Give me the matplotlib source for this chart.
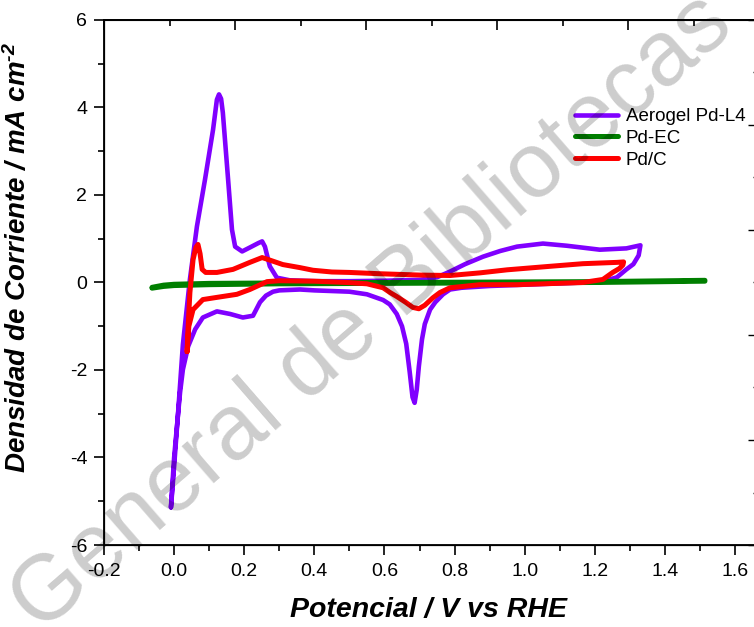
import matplotlib
matplotlib.use("Agg")
import matplotlib.pyplot as plt
from matplotlib.ticker import MultipleLocator, NullFormatter

plt.rcParams['font.family'] = ['Liberation Sans', 'DejaVu Sans']
plt.rcParams['mathtext.fontset'] = 'custom'
plt.rcParams['mathtext.rm'] = 'Liberation Sans:italic:bold'
plt.rcParams['mathtext.bf'] = 'Liberation Sans:italic:bold'
plt.rcParams['mathtext.it'] = 'Liberation Sans:italic:bold'

# ---------------- data ----------------
# Aerogel Pd-L4 : anodic scan followed by cathodic scan
aero_x = [-0.009, 0.000, 0.012, 0.025, 0.045, 0.065, 0.088, 0.111, 0.122, 0.128, 0.134, 0.139,
          0.154, 0.165, 0.174, 0.194, 0.216, 0.240, 0.251, 0.259, 0.273, 0.293, 0.33, 0.40,
          0.50, 0.60, 0.70, 0.75, 0.787, 0.83, 0.881, 0.93, 0.978, 1.052, 1.12, 1.214, 1.29,
          1.330, 1.325, 1.31, 1.29, 1.263, 1.223, 1.166, 1.00, 0.90, 0.82, 0.787, 0.767, 0.745,
          0.730, 0.715, 0.707, 0.698, 0.692, 0.686, 0.680, 0.672, 0.662, 0.650, 0.635, 0.615,
          0.596, 0.55, 0.50, 0.40, 0.359, 0.30, 0.282, 0.262, 0.245, 0.225, 0.196, 0.16, 0.122,
          0.082, 0.060, 0.040, 0.025, 0.017, 0.008, 0.000, -0.009]
aero_y = [-5.14, -4.20, -2.90, -1.42, 0.07, 1.28, 2.35, 3.49, 4.18, 4.30, 4.20, 3.88,
          2.35, 1.21, 0.82, 0.71, 0.80, 0.90, 0.94, 0.82, 0.37, 0.11, 0.05, 0.03,
          0.03, 0.04, 0.06, 0.12, 0.25, 0.42, 0.59, 0.72, 0.82, 0.89, 0.84, 0.75, 0.78,
          0.85, 0.62, 0.42, 0.30, 0.12, 0.02, 0.00, -0.05, -0.08, -0.12, -0.16, -0.27, -0.45,
          -0.62, -0.95, -1.30, -1.92, -2.45, -2.75, -2.62, -2.05, -1.40, -1.00, -0.72, -0.50,
          -0.40, -0.27, -0.21, -0.18, -0.16, -0.18, -0.21, -0.30, -0.45, -0.76, -0.80, -0.72, -0.66,
          -0.80, -1.07, -1.46, -1.99, -2.51, -3.29, -4.00, -5.14]

# Pd-EC
pdec_x = [-0.063, -0.03, 0.00, 0.10, 0.30, 0.60, 0.90, 1.20, 1.514,
          1.514, 1.20, 0.90, 0.60, 0.30, 0.10, 0.00, -0.03, -0.063]
pdec_y = [-0.11, -0.06, -0.04, -0.02, -0.01, 0.00, 0.01, 0.02, 0.05,
          0.03, 0.00, -0.01, -0.02, -0.03, -0.05, -0.07, -0.09, -0.13]

# Pd/C
pdc_x = [0.037, 0.040, 0.045, 0.054, 0.062, 0.068, 0.074, 0.080, 0.090, 0.122, 0.168, 0.216,
         0.251, 0.270, 0.31, 0.359, 0.396, 0.45, 0.50, 0.587, 0.70, 0.787, 0.872, 0.95, 1.072,
         1.166, 1.263, 1.282, 1.280, 1.270, 1.251, 1.223, 1.166, 0.978, 0.872, 0.824, 0.787,
         0.758, 0.738, 0.715, 0.698, 0.681, 0.660, 0.635, 0.616, 0.596, 0.55, 0.493, 0.40,
         0.30, 0.265, 0.216, 0.179, 0.122, 0.082, 0.054, 0.042, 0.037]
pdc_y = [-1.58, -1.00, -0.23, 0.52, 0.80, 0.87, 0.66, 0.30, 0.23, 0.23, 0.30, 0.46,
         0.57, 0.52, 0.41, 0.34, 0.28, 0.24, 0.23, 0.20, 0.17, 0.16, 0.22, 0.29, 0.37,
         0.43, 0.46, 0.47, 0.40, 0.32, 0.23, 0.07, 0.00, -0.05, -0.05, -0.09, -0.12,
         -0.23, -0.35, -0.52, -0.60, -0.57, -0.45, -0.32, -0.23, -0.12, -0.03, 0.00, 0.03,
         0.04, 0.02, -0.16, -0.27, -0.34, -0.39, -0.62, -1.00, -1.58]

series_labels = ["Aerogel Pd-L4", "Pd-EC", "Pd/C"]
series_colors = ["#8000FF", "#007F00", "#FF0000"]

x_label = "Potencial / V vs RHE"
y_label = "Densidad de Corriente / mA cm$^{\\text{-2}}$"
watermark = "General de Bibliotecas"

# ---------------- figure ----------------
W, H = 754, 627
fig = plt.figure(figsize=(W / 100, H / 100), dpi=100)
left_px, right_px, top_px, bot_px = 104, 756, 20, 545
ax = fig.add_axes([left_px / W, 1 - bot_px / H, (right_px - left_px) / W, (bot_px - top_px) / H])

ax.plot(aero_x, aero_y, color=series_colors[0], lw=3.3, label=series_labels[0],
        solid_joinstyle='round', solid_capstyle='round', zorder=2)
ax.plot(pdec_x, pdec_y, color=series_colors[1], lw=3.6, label=series_labels[1],
        solid_joinstyle='round', solid_capstyle='round', zorder=3)
ax.plot(pdc_x, pdc_y, color=series_colors[2], lw=3.6, label=series_labels[2],
        solid_joinstyle='round', solid_capstyle='round', zorder=4)

ax.set_xlim(-0.2, -0.2 + (right_px - left_px) / 350.6)
ax.set_ylim(-6, 6)
ax.xaxis.set_major_locator(MultipleLocator(0.2))
ax.xaxis.set_minor_locator(MultipleLocator(0.1))
ax.yaxis.set_major_locator(MultipleLocator(2))
ax.yaxis.set_minor_locator(MultipleLocator(1))
ax.xaxis.set_major_formatter(matplotlib.ticker.FuncFormatter(lambda v, p: f"{v:.1f}"))
ax.yaxis.set_major_formatter(matplotlib.ticker.FuncFormatter(lambda v, p: f"{v:.0f}"))
ax.tick_params(which='both', direction='out', top=False, right=False, width=1.2, labelsize=14)
ax.tick_params(which='major', length=7)
ax.tick_params(which='minor', length=4)
ax.tick_params(axis='x', which='major', pad=6)
ax.tick_params(axis='y', which='major', pad=5)
for s in ax.spines.values():
    s.set_linewidth(1.3)

ax.set_xlabel(x_label, fontsize=20.5, fontweight='bold', fontstyle='italic')
ax.set_ylabel(y_label, fontsize=20, fontweight='bold', fontstyle='italic')
ax.xaxis.set_label_coords(0.497, -0.100)
ax.yaxis.set_label_coords(-0.11, 0.548)

# top ticks (different spacing in the source image)
axt = ax.twiny()
axt.set_xlim(0, (right_px - left_px) / 131.0)
axt.xaxis.set_major_locator(MultipleLocator(1))
axt.xaxis.set_minor_locator(MultipleLocator(0.5))
axt.xaxis.set_major_formatter(NullFormatter())
axt.tick_params(which='both', direction='in', top=True, bottom=False, width=1.2)
axt.tick_params(which='major', length=7)
axt.tick_params(which='minor', length=4)
axt.spines['top'].set_linewidth(1.3)

# right ticks
axr = ax.twinx()
axr.set_ylim(0, 5)
axr.yaxis.set_major_locator(MultipleLocator(1))
axr.yaxis.set_minor_locator(MultipleLocator(0.5))
axr.yaxis.set_major_formatter(NullFormatter())
axr.tick_params(which='both', direction='in', right=True, left=False, width=1.0)
axr.tick_params(which='major', length=6)
axr.tick_params(which='minor', length=2)

leg = ax.legend(loc='upper left', bbox_to_anchor=(575 / W, 1 - 108 / H),
                bbox_transform=fig.transFigure, frameon=False, fontsize=13.5,
                handlelength=2.3, handletextpad=0.4, labelspacing=0.25,
                borderpad=0, borderaxespad=0)

fig.text(40 / W, 1 - 634 / H, watermark, fontsize=66, color='black', alpha=0.2,
         rotation=41, rotation_mode='anchor', ha='left', va='baseline', zorder=10)

fig.savefig("out.png", dpi=100)
